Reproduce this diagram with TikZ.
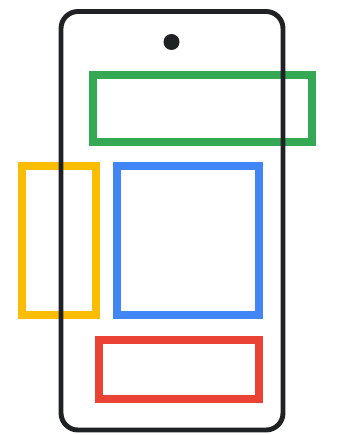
\documentclass[tikz,border=0pt]{standalone}
\definecolor{gblue}{HTML}{4285F4}
\definecolor{ggreen}{HTML}{34A853}
\definecolor{gyellow}{HTML}{FBBC04}
\definecolor{gred}{HTML}{EA4335}
\definecolor{phonegray}{HTML}{202124}
\begin{document}
\begin{tikzpicture}[x=0.02cm, y=-0.02cm,
    panel/.style={line width=4pt},
    phonebody/.style={line width=2.8pt, draw=phonegray, rounded corners=0.34cm}]
        \useasboundingbox (0,0) rectangle (340,435);
        % Panels
        \draw[panel, draw=ggreen] (93,75) rectangle (312,142);
        \draw[panel, draw=gyellow] (22,166) rectangle (96,315);
        \draw[panel, draw=gblue] (117,166) rectangle (259,315);
        \draw[panel, draw=gred] (99,340) rectangle (259,399);
        % Phone outline
        \draw[phonebody] (61,11.5) rectangle (283,430);
        % Camera
        \fill[phonegray] (171.5,42) circle (0.16cm);
\end{tikzpicture}
\end{document}
